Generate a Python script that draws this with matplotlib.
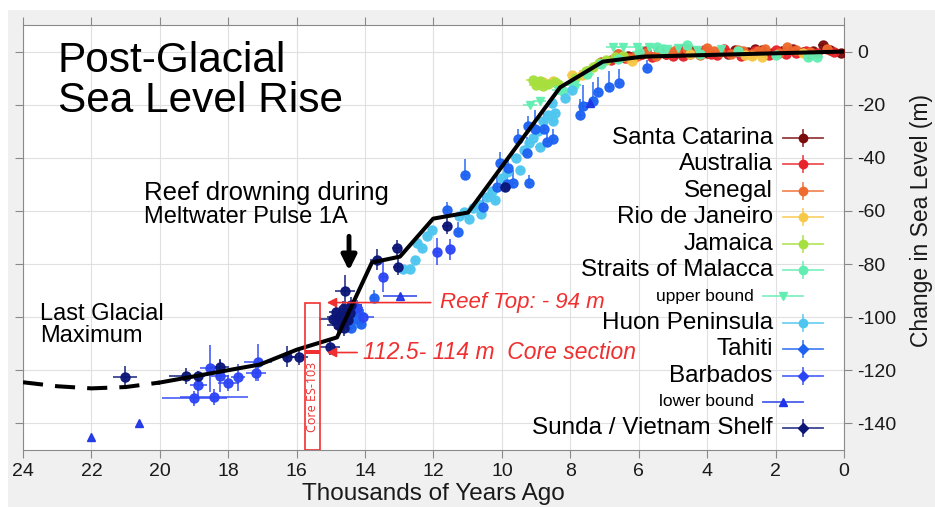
import numpy as np
import matplotlib.pyplot as plt
from matplotlib.patches import Rectangle

plt.rcParams['font.family'] = ['Liberation Sans', 'DejaVu Sans']
plt.rcParams['axes.unicode_minus'] = False

# ---- data (thousands of years ago, metres) ----
curve_age = [20.0, 17.07, 15.99, 14.82, 13.8, 12.98, 12.01, 10.99, 8.3, 7.05, 5.88, 0.0]
curve_level = [-124.6, -117.8, -112.2, -107.6, -79.4, -77.2, -62.9, -60.6, -13.5, -3.8, -1.9, 0.0]
lgm_age = [24.0, 23.0, 22.0, 21.0, 20.0]
lgm_level = [-124.5, -126.0, -126.8, -126.3, -124.6]

santa_age = [0.1, 0.4, 0.6, 0.9, 1.0, 1.2, 1.5, 1.8, 2.1, 2.4, 2.6, 2.8, 3.2, 3.4, 3.6, 4.0, 4.4,
             4.7, 4.9, 5.2, 5.4, 5.9, 6.3]
santa_level = [-0.4, 0.5, 2.3, 0.4, -0.8, -0.3, 0.8, 0.1, -0.6, 0.5, 0.9, -0.3, 0.6, -0.9, 0.2, -0.4, 0.4,
               0.9, -0.6, -1.1, 0.1, -0.9, -1.6]

aus_age = [0.3, 0.8, 1.1, 1.4, 1.7, 2.0, 2.2, 2.6, 2.9, 3.0, 3.4, 3.5, 3.7, 3.9, 4.1, 4.3, 4.5, 4.7,
           4.8, 5.0, 5.2, 5.4, 5.6, 5.8, 6.0, 6.2, 6.4, 6.6, 6.8, 7.1]
aus_level = [-0.2, -0.5, 0.2, -0.6, -0.8, 0.5, -1.2, 0.4, -0.4, -1.5, -0.6, 0.8, -1.2, -1.0, 0.6, 0.3, -0.9, -1.8,
             0.1, -1.5, -0.9, -0.4, -2.2, 0.3, -1.4, -2.0, -2.6, -1.0, -3.2, -3.8]

sen_age = [0.5, 1.0, 1.4, 1.67, 1.9, 2.3, 2.5, 2.7, 2.95, 3.1, 3.3, 3.63, 3.8, 4.0, 4.2, 4.6, 4.9,
           5.1, 5.5, 5.8, 6.1, 6.3, 6.6]
sen_level = [0.8, -0.3, 0.6, 1.9, -0.4, 1.0, 0.2, -1.0, 0.3, 0.5, -0.8, 0.0, 0.2, 1.2, -1.3, 0.9, 0.5,
             -0.3, -1.6, -0.7, -2.0, -2.4, -1.1]

rio_age = [8.8, 8.5, 7.95, 7.66, 6.2, 4.5, 2.9, 2.7, 2.4, 1.2]
rio_level = [-11.3, -11.0, -8.8, -9.0, -3.5, -0.8, -1.2, -1.6, -2.0, -0.4]

jam_age = [9.1, 9.0, 8.9, 8.8, 8.65, 8.45, 8.35, 7.85, 7.55, 7.35, 7.15, 6.95, 6.7, 6.45]
jam_level = [-10.8, -12.6, -11.0, -12.9, -12.3, -11.4, -12.2, -9.8, -7.2, -5.8, -4.4, -3.0, -2.2, -1.8]

mal_age = [8.2, 7.9, 7.5, 7.1, 6.6, 6.0, 5.47, 5.3, 4.6, 4.2, 3.1, 2.0, 1.05, 0.8]
mal_level = [-14.8, -12.5, -8.6, -4.5, -2.8, -0.2, 1.9, 0.8, 2.6, -0.8, 0.4, -1.2, -2.2, -2.0]

upper_age = [9.18, 8.9, 8.35, 7.9, 6.75, 6.45, 6.05, 5.7, 5.17, 4.85, 4.3, 3.6]
upper_level = [-20.0, -18.5, -14.3, -12.4, 1.6, 1.9, 1.9, 1.8, 1.1, 1.5, 0.6, 0.9]

huon_age = [14.3, 14.15, 12.89, 12.69, 12.54, 12.48, 12.33, 12.19, 12.05, 11.25, 11.1, 10.95,
            10.85, 10.7, 10.6, 10.44, 10.3, 10.2, 10.0, 9.85, 9.6, 9.47, 9.35, 9.2, 9.1, 8.95,
            8.9, 8.8, 8.65, 8.5, 8.45, 8.55, 8.16, 7.95]
huon_level = [-102.0, -99.0, -81.7, -82.0, -78.3, -71.9, -73.8, -69.6, -67.0, -62.0, -60.5, -63.0,
              -59.0, -57.5, -61.0, -54.6, -52.5, -56.0, -47.5, -45.5, -40.0, -44.4, -37.0, -34.5, -32.4, -30.0,
              -35.8, -26.3, -24.0, -26.3, -23.0, -19.3, -17.3, -14.3]

tahiti_age = [14.35, 14.28, 14.2, 14.12, 14.4, 13.74, 11.6, 11.28, 11.08, 10.55, 10.14, 10.06, 9.85,
              9.82, 9.68, 9.53, 9.26, 9.23, 9.2, 9.03, 8.77, 8.68, 8.5, 7.72, 7.63, 7.34, 7.19, 6.87,
              6.58, 5.76]
tahiti_level = [-97.5, -100.5, -98.0, -102.5, -104.0, -92.6, -59.7, -68.0, -46.3, -58.7, -50.8, -41.8, -50.0,
                -43.7, -49.4, -33.1, -38.0, -28.2, -49.4, -29.0, -29.0, -34.2, -33.1, -23.7, -20.6, -18.5, -15.4, -13.5,
                -11.7, -6.0]
tahiti_up = [4, 6, 3, 5, 4, 3, 3, 4, 6, 5, 6, 4, 5, 4, 5, 4, 6, 4, 3, 7, 6, 4, 4, 6, 8, 7, 6, 6, 5, 3]

barb_age = [19.0, 18.88, 18.53, 18.41, 18.24, 18.0, 17.71, 17.19, 17.13, 13.47, 11.9, 11.52, 14.25, 14.05]
barb_level = [-130.6, -125.7, -119.3, -130.0, -122.0, -124.6, -122.6, -120.9, -117.0, -84.7, -75.3, -74.5, -96.5, -100.0]
barb_age_err = [0.95, 0.25, 0.3, 1.0, 0.25, 0.3, 0.2, 0.3, 0.4, 0.1, 0.1, 0.1, 0.2, 0.3]
barb_level_err = [3, 4, 9, 3, 6, 3, 5, 3, 7, 6, 5, 4, 3, 3]

lower_age = [22.0, 20.6, 12.98, 7.43]
lower_level = [-145.0, -139.8, -92.2, -19.2]
lower_age_err = [0.0, 0.0, 0.5, 0.1]

sunda_age = [21.02, 19.24, 18.88, 18.24, 16.28, 15.92, 15.03, 14.59, 14.95, 14.85, 14.8, 14.75, 14.7,
             14.65, 14.62, 14.6, 14.55, 14.5, 14.45, 14.4, 13.65, 13.07, 13.03, 11.6, 9.9]
sunda_level = [-122.7, -122.0, -122.3, -118.8, -114.9, -114.9, -111.1, -90.3, -100.5, -98.0, -103.0, -100.0, -102.0,
               -97.0, -104.0, -99.5, -101.0, -101.0, -98.5, -95.5, -78.3, -73.8, -81.0, -65.8, -50.8]
sunda_age_err = [0.35, 0.5, 0.2, 0.25, 0.25, 0.25, 0.3, 0.3, 0.4, 0.2, 0.3, 0.35, 0.2, 0.25, 0.3, 0.2,
                 0.4, 0.25, 0.2, 0.3, 0.2, 0.15, 0.15, 0.15, 0.15]
sunda_level_err = [4.5, 3, 2, 3, 4, 3, 3, 6, 3, 3, 3, 3, 4, 3, 3, 4, 3, 3, 3, 3, 4, 3, 3, 3, 2]

# colours
c_santa, c_aus, c_sen = '#7b0c0c', '#e8252a', '#ef6a2e'
c_rio, c_jam, c_mal = '#f7c948', '#a6e03e', '#62eeb2'
c_huon, c_tahiti, c_barb = '#4ec6ef', '#1e63f2', '#2d46f5'
c_lower, c_sunda = '#1d35e6', '#0b1677'
red = '#f03030'

fig = plt.figure(figsize=(9.35, 5.07), dpi=100, facecolor='white')
fig.patches.append(Rectangle((8 / 935, 0), 1, 497 / 507, transform=fig.transFigure,
                             facecolor='#f0f0f0', edgecolor='none', zorder=-5))
ax = fig.add_axes([23 / 935, 57 / 507, 821 / 935, 425 / 507])
ax.set_facecolor('white')


def draw(age, level, color, xerr, yerr, marker='o', ms=6.5):
    ax.errorbar(age, level, xerr=xerr, yerr=yerr, fmt=marker, ms=ms, color=color,
                mec=color, ecolor=color, elinewidth=1.1, capsize=0, alpha=0.95, zorder=3)


draw(santa_age, santa_level, c_santa, 0.15, 0.8)
draw(aus_age, aus_level, c_aus, 0.15, 0.8)
draw(sen_age, sen_level, c_sen, 0.15, 0.8)
draw(rio_age, rio_level, c_rio, 0.15, 0.8)
draw(jam_age, jam_level, c_jam, 0.2, 0.8)
draw(mal_age, mal_level, c_mal, 0.2, 0.8)
draw(upper_age, upper_level, c_mal, 0.2, 0.5, marker='v', ms=6)
draw(huon_age, huon_level, c_huon, 0.12, 1.5)
draw(tahiti_age, tahiti_level, c_tahiti, 0.08, [[1.5] * len(tahiti_up), tahiti_up])
draw(barb_age, barb_level, c_barb, barb_age_err, barb_level_err)
draw(lower_age, lower_level, c_lower, lower_age_err, 0, marker='^', ms=6)
draw(sunda_age, sunda_level, c_sunda, sunda_age_err, sunda_level_err)

# sea level curve
ax.plot(curve_age, curve_level, color='black', lw=2.9, zorder=5, solid_joinstyle='round')
ax.plot(lgm_age, lgm_level, color='black', lw=2.9, ls=(0, (5, 3)), zorder=5)

# core ES-103
ax.add_patch(Rectangle((15.32, -150), 0.45, 55.5, fill=False, edgecolor=red, lw=1.2, zorder=6))
ax.add_patch(Rectangle((15.32, -114), 0.45, 1.5, facecolor=red, edgecolor='none', zorder=6))
ax.text(15.54, -130, 'Core ES-103', rotation=90, color=red, fontsize=9,
        family=['Open Sans', 'DejaVu Sans'], ha='center', va='center', zorder=7)
ax.annotate('', xy=(15.2, -94.5), xytext=(12.0, -94.5),
            arrowprops=dict(arrowstyle='-|>', color=red, lw=1.2, mutation_scale=14), zorder=7)
ax.text(11.8, -94.5, 'Reef Top: - 94 m', color=red, fontsize=16, style='italic',
        ha='left', va='center')
ax.annotate('', xy=(15.2, -113.3), xytext=(14.15, -113.3),
            arrowprops=dict(arrowstyle='-|>', color=red, lw=1.2, mutation_scale=14), zorder=7)
ax.text(14.05, -113.3, '112.5- 114 m  Core section', color=red, fontsize=16.5, style='italic',
        ha='left', va='center')

# meltwater pulse arrow
ax.annotate('', xy=(14.47, -83.5), xytext=(14.47, -68.5),
            arrowprops=dict(arrowstyle='-|>', color='black', lw=3.5, mutation_scale=22), zorder=7)

ax.text(22.98, 3.8, 'Post-Glacial\nSea Level Rise', fontsize=30.5, linespacing=0.98,
        ha='left', va='top')
ax.text(20.46, -55.7, 'Reef drowning during', fontsize=18.5, ha='left', va='baseline')
ax.text(20.46, -64.7, 'Meltwater Pulse 1A', fontsize=17, ha='left', va='baseline')
ax.text(23.5, -109.5, 'Last Glacial\nMaximum', fontsize=17, linespacing=1.0,
        ha='left', va='baseline')

# axes styling
ax.set_xlim(24, 0)
ax.set_ylim(-150, 10)
ax.set_xticks(np.arange(0, 25, 2))
ax.set_yticks(np.arange(-140, 1, 20))
ax.grid(True, color='#e0e0e0', lw=0.8)
ax.set_axisbelow(True)
for s in ax.spines.values():
    s.set_color('#8a8a8a')
ax.tick_params(direction='out', length=6, color='#8a8a8a', labelsize=14,
               top=True, right=True, left=True, bottom=True,
               labelleft=False, labelright=True, labelcolor='#1a1a1a')
ax.yaxis.set_label_position('right')
ax.set_ylabel('Change in Sea Level (m)', fontsize=16.5, labelpad=10, color='#1a1a1a')
ax.yaxis.label.set_y(0.54)
ax.set_xlabel('Thousands of Years Ago', fontsize=17.5, labelpad=2, color='#1a1a1a')

# legend drawn by hand
legend_items = [
    ('Santa Catarina', c_santa, 'o', False),
    ('Australia', c_aus, 'o', False),
    ('Senegal', c_sen, 'o', False),
    ('Rio de Janeiro', c_rio, 'o', False),
    ('Jamaica', c_jam, 'o', False),
    ('Straits of Malacca', c_mal, 'o', False),
    ('upper bound', c_mal, 'v', True),
    ('Huon Peninsula', c_huon, 'o', False),
    ('Tahiti', c_tahiti, 'D', False),
    ('Barbados', c_barb, 'D', False),
    ('lower bound', c_lower, '^', True),
    ('Sunda / Vietnam Shelf', c_sunda, 'D', False),
]


def fx(px):
    return (px - 23) / 821


def fy(py):
    return (450 - py) / 425


for i, (label, color, marker, small) in enumerate(legend_items):
    py = 138 + i * 26.4
    mx = 783 if small else 803
    tx = 754 if small else 773
    y = fy(py)
    ax.plot([fx(mx - 20), fx(mx + 20)], [y, y], color=color, lw=1.3, alpha=0.8,
            transform=ax.transAxes, clip_on=False, zorder=8)
    if not small:
        ax.plot([fx(mx), fx(mx)], [fy(py - 8), fy(py + 8)], color=color, lw=1.3, alpha=0.8,
                transform=ax.transAxes, clip_on=False, zorder=8)
    ax.plot([fx(mx)], [y], marker=marker, color=color, ms=6 if marker != 'D' else 5,
            transform=ax.transAxes, clip_on=False, zorder=9)
    ax.text(fx(tx), y, label, fontsize=12.5 if small else 17.5, ha='right', va='center',
            transform=ax.transAxes, zorder=9)

fig.savefig('out.png', dpi=100, facecolor=fig.get_facecolor())
